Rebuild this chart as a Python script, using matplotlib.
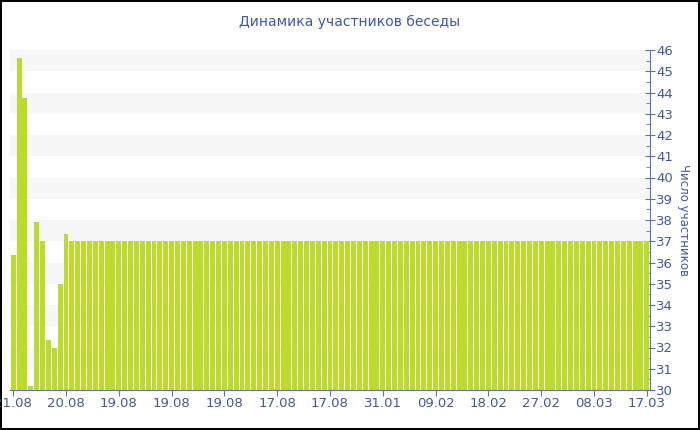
import matplotlib as mpl
import matplotlib.pyplot as plt
import numpy as np

mpl.rcParams['font.family'] = ['DejaVu Sans']

# bar values (109 bars, the rest flat at 37)
first_values = [36.35, 45.6, 43.75, 30.2, 37.9, 37.0, 32.35, 32.0, 35.0, 37.35]
values = first_values + [37.0] * (109 - len(first_values))
tick_labels = ["21.08", "20.08", "19.08", "19.08", "19.08", "17.08", "17.08",
               "31.01", "09.02", "18.02", "27.02", "08.03", "17.03"]
tick_step = 9

title = "Динамика участников беседы"
y_label = "Число участников"

text_color = "#3f5a9e"
axis_color = "#5a74b0"
bar_color = "#bcdc2c"
band_color = "#f7f7f7"

fig = plt.figure(figsize=(7, 4.3), dpi=100)
fig.patch.set_edgecolor("black")
fig.patch.set_linewidth(1.5)
ax = fig.add_axes([10 / 700, 1 - 390 / 430, 640 / 700, 340 / 430])

# alternating light bands
for lo in range(31, 46, 2):
    ax.axhspan(lo, lo + 1, color=band_color, zorder=0, lw=0)

x = np.arange(len(values))
ax.bar(x, np.array(values) - 30, bottom=30, width=0.84, color=bar_color,
       zorder=2, linewidth=0)

ax.set_xlim(-0.55, len(values) - 0.45)
ax.set_ylim(30, 46)

ax.yaxis.tick_right()
ax.yaxis.set_label_position("right")
ax.set_yticks(range(30, 47))
ax.set_yticks(np.arange(30.5, 46, 1), minor=True)
ax.tick_params(axis="y", which="major", direction="inout", length=7,
               color=axis_color, labelcolor=text_color, labelsize=9.5, pad=1)
ax.tick_params(axis="y", which="minor", direction="in", length=3,
               color=axis_color)
ax.set_ylabel(y_label, rotation=270, color=text_color, fontsize=8.5,
              labelpad=12)

ax.set_xticks(x[::tick_step])
ax.set_xticklabels(tick_labels)
ax.tick_params(axis="x", direction="out", length=4, color=axis_color,
               labelcolor=text_color, labelsize=9.5, pad=1)

for side in ["top", "left"]:
    ax.spines[side].set_visible(False)
for side in ["bottom", "right"]:
    ax.spines[side].set_color(axis_color)

fig.text(0.5, 1 - 22 / 430, title, ha="center", va="center",
         color=text_color, fontsize=10)

fig.savefig("out.png", dpi=100, edgecolor=fig.get_edgecolor())
